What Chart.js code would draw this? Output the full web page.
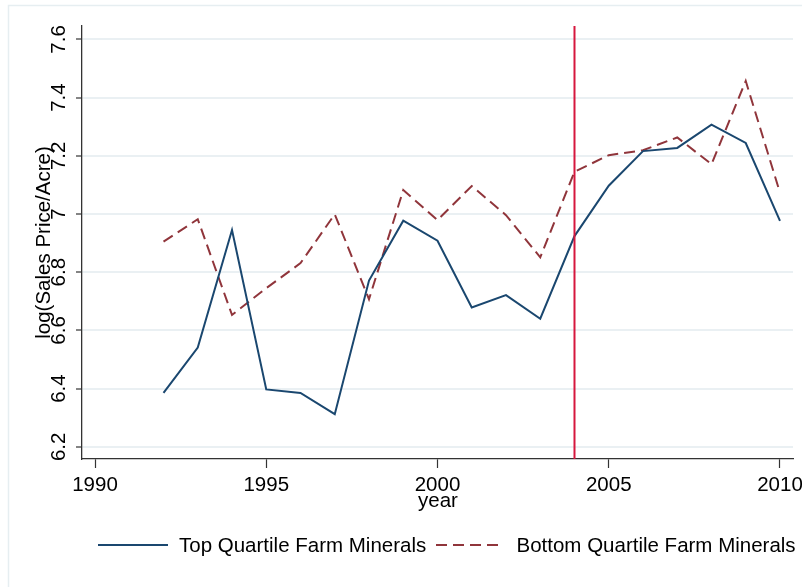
<!DOCTYPE html>
<html>
<head>
<meta charset="utf-8">
<script src="https://cdn.jsdelivr.net/npm/chart.js@4/dist/chart.umd.min.js"></script>
<style>
  html, body { margin: 0; background: #fff; }
  #wrap { width: 802px; height: 587px; position: relative; }
</style>
</head>
<body>
<div id="wrap"><canvas id="myChart"></canvas></div>
<script>
const years = [1992, 1993, 1994, 1995, 1996, 1997, 1998, 1999, 2000, 2001,
  2002, 2003, 2004, 2005, 2006, 2007, 2008, 2009, 2010];
const topQuartile = [6.385, 6.541, 6.945, 6.397, 6.385, 6.312, 6.771, 6.977, 6.908, 6.679,
  6.721, 6.640, 6.924, 7.097, 7.216, 7.227, 7.307, 7.244, 6.976];
const bottomQuartile = [6.905, 6.982, 6.653, 6.745, 6.831, 6.999, 6.707, 7.082, 6.979, 7.096,
  6.996, 6.851, 7.145, 7.202, 7.219, 7.263, 7.171, 7.457, 7.073];
const xTicks = [1990, 1995, 2000, 2005, 2010];
const yTicks = [6.2, 6.4, 6.6, 6.8, 7, 7.2, 7.4, 7.6];
const eventYear = 2004;
const seriesNames = ['Top Quartile Farm Minerals', 'Bottom Quartile Farm Minerals'];

const FONT = '20.5px "Liberation Sans", Arial, sans-serif';
const BLUE = '#1a476f';
const MAROON = '#90353b';

// stata-ish text, legend and the 2004 line
const stataPlugin = {
  id: 'stata',
  beforeDraw (chart) {
    const ctx = chart.ctx;
    ctx.save();
    ctx.fillStyle = '#fff';
    ctx.fillRect(0, 0, chart.width, chart.height);
    ctx.strokeStyle = '#e6eef1';
    ctx.lineWidth = 1.5;
    ctx.strokeRect(8.5, 5.5, chart.width, chart.height);
    ctx.restore();
  },
  afterDatasetsDraw (chart) {
    const ctx = chart.ctx;
    const x = chart.scales.x;
    const y = chart.scales.y;
    const area = chart.chartArea;

    ctx.save();
    ctx.strokeStyle = '#d6173e';
    ctx.lineWidth = 2;
    const px = x.getPixelForValue(eventYear);
    ctx.beginPath();
    ctx.moveTo(px, area.top);
    ctx.lineTo(px, area.bottom);
    ctx.stroke();
    ctx.restore();
  },
  afterDraw (chart) {
    const ctx = chart.ctx;
    const x = chart.scales.x;
    const y = chart.scales.y;
    const area = chart.chartArea;
    ctx.save();
    ctx.fillStyle = '#000';
    ctx.font = FONT;

    // x tick labels
    ctx.textAlign = 'center';
    ctx.textBaseline = 'alphabetic';
    for (const v of xTicks) {
      ctx.fillText(String(v), x.getPixelForValue(v), 490.5);
    }
    ctx.fillText('year', (area.left + area.right) / 2 + 0.5, 507);

    // y tick labels, rotated
    for (const v of yTicks) {
      ctx.save();
      ctx.translate(65, y.getPixelForValue(v));
      ctx.rotate(-Math.PI / 2);
      ctx.fillText(String(v), 0, 0);
      ctx.restore();
    }
    ctx.save();
    ctx.translate(49.5, (area.top + area.bottom) / 2);
    ctx.rotate(-Math.PI / 2);
    ctx.fillText('log(Sales Price/Acre)', 0, 0);
    ctx.restore();

    // legend
    ctx.lineWidth = 2;
    ctx.strokeStyle = BLUE;
    ctx.beginPath();
    ctx.moveTo(98, 545);
    ctx.lineTo(168, 545);
    ctx.stroke();
    ctx.strokeStyle = MAROON;
    ctx.setLineDash([11, 6]);
    ctx.beginPath();
    ctx.moveTo(436, 545);
    ctx.lineTo(501, 545);
    ctx.stroke();
    ctx.setLineDash([]);
    ctx.textAlign = 'left';
    ctx.fillText(seriesNames[0], 179, 552);
    ctx.fillText(seriesNames[1], 516.5, 552);
    ctx.restore();
  }
};

const toPoints = vals => years.map((yr, i) => ({ x: yr, y: vals[i] }));

new Chart(document.getElementById('myChart'), {
  type: 'line',
  data: {
    datasets: [
      {
        label: seriesNames[0],
        data: toPoints(topQuartile),
        borderColor: BLUE,
        borderWidth: 2,
        pointRadius: 0,
        tension: 0,
        fill: false
      },
      {
        label: seriesNames[1],
        data: toPoints(bottomQuartile),
        borderColor: MAROON,
        borderWidth: 2,
        borderDash: [11, 6],
        pointRadius: 0,
        tension: 0,
        fill: false
      }
    ]
  },
  options: {
    responsive: true,
    maintainAspectRatio: false,
    animation: false,
    layout: { padding: { left: 76, right: 9, top: 26, bottom: 119 } },
    plugins: {
      legend: { display: false },
      tooltip: { enabled: false }
    },
    scales: {
      x: {
        type: 'linear',
        min: 1989.62,
        max: 2010.38,
        afterBuildTicks: s => { s.ticks = xTicks.map(v => ({ value: v })); },
        ticks: { display: false },
        grid: {
          drawOnChartArea: false,
          drawTicks: true,
          tickLength: 9,
          tickColor: '#333',
          tickWidth: 1.2
        },
        border: { display: true, color: '#333', width: 1.3 }
      },
      y: {
        type: 'linear',
        min: 6.158,
        max: 7.646,
        afterBuildTicks: s => { s.ticks = yTicks.map(v => ({ value: v })); },
        ticks: { display: false },
        grid: {
          color: '#eaf0f3',
          lineWidth: 2,
          drawTicks: true,
          tickLength: 6,
          tickColor: '#333',
          tickWidth: 1.2
        },
        border: { display: true, color: '#333', width: 1.3 }
      }
    }
  },
  plugins: [stataPlugin]
});
</script>
</body>
</html>
